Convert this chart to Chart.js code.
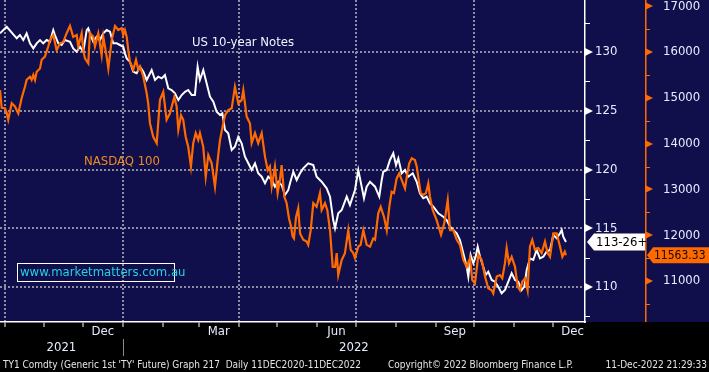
<!DOCTYPE html>
<html>
<head>
<title>US 10-year Notes vs NASDAQ 100</title>
<script src="https://cdn.jsdelivr.net/npm/chart.js@4.4.1/dist/chart.umd.min.js"></script>
<style>
body{margin:0;background:#000;}
</style>
</head>
<body>
<canvas id="myChart" width="709" height="372"></canvas>
<script>
// x values are days counted from 1 Jan 2022
var notesDays = [-95.5,-90.3,-82.5,-80.0,-77.4,-74.8,-72.2,-69.6,-67.0,-64.4,
 -61.9,-59.2,-56.7,-54.1,-52.8,-50.2,-47.6,-45.0,-41.1,-38.6,
 -35.9,-33.3,-30.8,-28.1,-26.9,-25.6,-23.0,-20.4,-17.8,-15.2,
 -12.6,-10.0,-7.5,-4.8,-2.3,0.3,1.6,3.0,5.5,8.1,
 10.7,13.3,15.9,18.5,22.4,25.0,27.5,30.2,32.7,35.3,
 37.9,40.5,43.1,45.7,48.3,50.8,53.5,56.0,58.1,59.9,
 62.5,65.1,67.7,70.3,72.9,75.5,77.3,79.4,81.9,84.6,
 87.1,89.7,92.3,94.9,97.5,100.1,102.7,105.2,107.9,110.5,
 113.0,115.7,118.2,120.8,123.4,126.0,128.6,129.9,132.5,135.1,
 137.7,140.2,144.1,148.0,150.6,154.5,158.4,161.0,163.5,164.9,
 167.4,170.1,174.0,176.5,180.4,183.0,185.6,187.4,189.5,192.1,
 196.0,199.3,201.2,202.4,205.1,207.6,210.2,212.3,214.1,216.7,
 219.3,221.8,225.3,228.4,230.9,233.5,236.1,238.7,241.3,245.2,
 249.0,251.7,254.3,256.8,259.5,262.0,264.6,267.2,268.5,270.3,
 272.4,274.2,275.8,277.6,280.1,282.0,284.0,286.7,289.2,291.8,
 294.4,297.0,299.6,302.2,304.8,307.3,310.0,312.0,313.9,316.4,
 319.0,321.6,324.2,326.8,329.4,332.0,334.6,337.2,339.8,341.1,
 342.3,344.4];
var notesValues = [131.59,132.15,131.17,131.45,131.02,131.59,130.74,130.31,130.74,131.02,
 130.74,131.02,130.88,131.87,131.45,130.74,130.60,131.02,130.88,130.31,
 130.03,130.45,130.03,131.87,132.02,131.59,130.88,131.30,131.02,131.59,
 131.87,131.73,130.74,130.74,130.60,130.45,129.89,129.46,129.17,128.32,
 128.19,128.75,128.32,127.62,128.47,127.62,127.90,127.76,128.04,126.91,
 126.77,126.49,125.91,126.34,126.62,126.77,126.34,126.34,128.75,127.62,
 128.47,127.34,126.20,125.77,124.92,124.64,124.78,123.36,123.08,121.66,
 121.94,122.79,122.23,121.09,120.53,119.96,120.53,119.68,119.39,118.83,
 119.39,119.11,118.54,118.96,118.68,117.83,118.26,118.83,119.81,119.11,
 119.68,120.10,120.53,120.38,119.39,118.96,118.40,117.69,115.70,115.00,
 116.27,116.55,117.69,116.98,118.26,119.96,118.54,117.55,118.54,118.96,
 118.54,117.69,119.11,119.81,119.96,120.81,121.38,120.38,120.95,119.68,
 119.96,119.39,119.68,118.96,117.98,117.55,117.69,117.12,116.84,116.27,
 115.98,115.70,115.13,114.85,114.57,114.00,112.87,111.73,110.88,112.72,
 112.02,112.58,113.43,112.58,111.73,111.02,111.30,110.60,110.45,110.03,
 109.46,109.74,110.45,111.17,110.60,110.45,109.74,110.03,111.45,112.44,
 112.30,113.15,112.44,112.58,113.01,113.15,114.43,114.15,114.57,114.85,
 114.28,113.83];

var ndxDays = [-95.5,-94.2,-91.6,-90.3,-89.1,-86.4,-83.9,-81.3,-78.7,-76.1,
 -74.8,-72.2,-70.9,-69.6,-68.3,-67.0,-64.4,-63.1,-60.6,-58.0,
 -56.7,-54.1,-51.5,-48.9,-46.3,-43.7,-41.1,-38.6,-35.9,-34.7,
 -32.0,-30.8,-29.5,-26.9,-25.6,-23.0,-21.7,-19.1,-16.5,-15.2,
 -12.6,-11.3,-8.7,-6.1,-3.6,-0.9,0.3,1.6,3.0,4.2,
 5.5,8.1,10.2,12.0,13.3,15.9,18.5,19.7,21.1,23.6,
 26.3,28.8,31.4,34.0,36.6,40.0,41.8,43.1,45.2,46.9,
 48.8,50.8,52.9,54.7,56.6,58.6,59.9,62.5,64.4,66.4,
 69.0,71.6,73.7,75.5,78.0,79.4,81.9,84.6,87.1,89.7,
 92.3,93.6,96.2,98.8,100.1,102.7,105.2,107.9,110.5,112.6,
 114.3,115.7,118.2,120.3,122.1,123.4,125.5,127.3,129.1,130.7,
 132.0,133.0,134.6,136.3,137.7,140.2,142.9,144.1,146.0,148.0,
 150.6,153.2,154.5,157.1,158.9,161.0,163.1,164.9,166.2,167.4,
 170.1,172.6,175.2,177.1,179.1,180.4,183.0,184.8,186.9,189.5,
 192.1,194.6,196.0,198.5,200.4,203.0,205.1,207.1,208.9,210.7,
 212.8,214.8,216.7,219.3,221.1,222.6,224.5,227.0,228.4,231.5,
 233.5,235.6,237.4,238.7,240.8,243.9,247.3,249.8,252.5,254.3,
 256.8,259.5,262.0,264.6,267.2,269.8,271.6,273.7,276.3,278.9,
 281.5,284.0,286.7,287.9,290.6,293.1,294.9,297.0,298.3,300.1,
 302.2,304.8,306.9,308.7,310.5,312.6,314.6,316.4,318.2,320.3,
 322.9,325.5,328.1,330.2,332.0,334.6,337.2,339.8,341.6,343.5,
 344.4];
var ndxValues = [15170,14780,14770,14670,14520,14880,14810,14660,14990,15240,
 15390,15460,15390,15500,15390,15570,15640,15830,15900,16120,
 16260,16370,16040,16190,16220,16410,16570,16330,16370,16120,
 16410,16040,15860,15750,16410,16330,16120,16410,15930,16330,
 15900,15640,16260,16570,16480,16520,16370,16480,16330,16040,
 15790,15610,15830,15610,15680,15460,15100,14880,14440,14150,
 14010,14950,15130,14520,14660,15020,14810,14300,14620,14520,
 14150,13930,13500,14010,14230,14080,14230,13930,13280,13750,
 13570,13060,13640,14080,14440,14620,14730,14770,15240,14880,
 14950,15170,14590,14440,14010,14230,14010,14230,13710,13420,
 13500,13060,13500,12920,13210,13530,12840,12700,12370,12190,
 11970,11930,12400,12590,12040,11900,11860,11790,12110,12700,
 12620,12920,12550,12700,12550,12110,11310,11310,11610,11130,
 11460,11610,12110,11680,11610,11500,11750,11790,12110,11790,
 11750,11930,11900,12480,12620,12400,12110,12620,12950,12920,
 13240,13350,13210,13020,13350,13570,13680,13640,13500,12920,
 12880,12920,13130,12840,12550,12330,12010,12260,12770,12110,
 12110,11900,11790,11460,11310,11500,11020,10950,11570,11460,
 11100,10840,10800,10730,11100,11130,11060,11390,11720,11390,
 11530,11310,10880,10800,10990,11060,10800,11750,11900,11680,
 11720,11610,11860,11610,11530,12040,12040,11750,11530,11640,
 11563.33];

var monthStarts = [-92,-61,-31,0,31,59,90,120,151,181,212,243,273,304,334];
var quarterStarts = [-92,0,90,181,273];
var monthNames = ['Dec','Mar','Jun','Sep','Dec'];
var monthFrom = [-31,59,151,243,334];
var monthTo = [0,90,181,273,365];
var years = ['2021','2022'];
var notesTicks = [107.5,110,112.5,115,117.5,120,122.5,125,127.5,130,132.5];
var ndxTicks = [10500,11000,11500,12000,12500,13000,13500,14000,14500,15000,15500,16000,16500,17000];

var NAVY = '#100e4b';
var ORANGE = '#ff6a00';
var GRID = '#8e8ea2';
var LABEL = '#e6ecff';
var FONT = "'DejaVu Sans Condensed','DejaVu Sans',sans-serif";

function pts(xs, ys) {
  return xs.map(function (d, i) { return {x: d, y: ys[i]}; });
}

function flag(c, x, y, col) {
  c.fillStyle = col;
  c.beginPath();
  c.moveTo(x, y - 4);
  c.lineTo(x + 8, y);
  c.lineTo(x, y + 4);
  c.closePath();
  c.fill();
}

function minorTick(c, x, y, col) {
  c.strokeStyle = col;
  c.lineWidth = 1;
  c.beginPath();
  c.moveTo(x, y + 0.5);
  c.lineTo(x + 5, y + 0.5);
  c.stroke();
}

function thirtySeconds(v) {
  var whole = Math.floor(v);
  var f = (v - whole) * 32;
  var n = Math.floor(f);
  return whole + '-' + (n < 10 ? '0' : '') + n + (f - n >= 0.5 ? '+' : '');
}

var decoPlugin = {
  id: 'deco',
  beforeDraw: function (chart) {
    var c = chart.ctx, a = chart.chartArea;
    c.save();
    c.fillStyle = '#000000';
    c.fillRect(0, 0, chart.width, chart.height);
    c.fillStyle = NAVY;
    c.fillRect(0, 0, chart.width, a.bottom);
    c.restore();
  },
  afterDraw: function (chart) {
    var c = chart.ctx, a = chart.chartArea;
    var xs = chart.scales.x, ys = chart.scales.y, ys2 = chart.scales.y2;
    var bottom = Math.round(a.bottom);
    c.save();

    // orange axis line, stops at the plot bottom
    c.fillStyle = ORANGE;
    c.fillRect(Math.round(ys2.left), 0, 1.5, bottom);

    // flags and minor ticks on the value axes
    ys.ticks.forEach(function (t) {
      var py = Math.round(ys.getPixelForValue(t.value));
      if (t.value % 5 === 0) flag(c, ys.left, py, '#ffffff');
      else minorTick(c, ys.left, py, '#ffffff');
    });
    ys2.ticks.forEach(function (t) {
      var py = Math.round(ys2.getPixelForValue(t.value));
      if (t.value % 1000 === 0) flag(c, ys2.left, py, ORANGE);
      else minorTick(c, ys2.left, py, ORANGE);
    });

    // series captions
    c.font = '13px ' + FONT;
    c.textBaseline = 'middle';
    c.textAlign = 'left';
    c.fillStyle = '#f2f5ff';
    c.fillText('US 10-year Notes', xs.getPixelForValue(53.7), ys.getPixelForValue(130.77));
    c.fillStyle = '#f08a24';
    c.fillText('NASDAQ 100', xs.getPixelForValue(-30.2), ys2.getPixelForValue(13605));

    // watermark
    c.strokeStyle = '#ffffff';
    c.lineWidth = 1;
    c.strokeRect(17.5, 263.5, 157, 18);
    c.fillStyle = '#22d3e6';
    c.fillText('www.marketmatters.com.au', 20, 273);

    // last value tags
    var lastN = notesValues[notesValues.length - 1];
    var py = ys.getPixelForValue(lastN);
    c.fillStyle = '#ffffff';
    c.beginPath();
    c.moveTo(ys.left + 2, py);
    c.lineTo(ys.left + 9, py - 8.5);
    c.lineTo(ys2.left, py - 8.5);
    c.lineTo(ys2.left, py + 8.5);
    c.lineTo(ys.left + 9, py + 8.5);
    c.closePath();
    c.fill();
    c.fillStyle = '#000000';
    c.textAlign = 'left';
    c.font = '13px ' + FONT;
    c.fillText(thirtySeconds(lastN), ys.left + 11, py + 0.5);

    var lastX = ndxValues[ndxValues.length - 1];
    var py2 = ys2.getPixelForValue(lastX);
    c.fillStyle = ORANGE;
    c.beginPath();
    c.moveTo(ys2.left + 2, py2);
    c.lineTo(ys2.left + 8, py2 - 8);
    c.lineTo(chart.width, py2 - 8);
    c.lineTo(chart.width, py2 + 8);
    c.lineTo(ys2.left + 8, py2 + 8);
    c.closePath();
    c.fill();
    c.fillStyle = '#140800';
    c.font = '12px ' + FONT;
    c.fillText(lastX.toFixed(2), ys2.left + 9, py2 + 0.5);

    // the strip under the value axes stays black
    c.fillStyle = '#000000';
    c.fillRect(Math.round(a.right) + 1, bottom + 1, chart.width, chart.height);

    // month and year labels
    c.fillStyle = LABEL;
    c.textAlign = 'center';
    c.font = '13px ' + FONT;
    monthNames.forEach(function (m, i) {
      var cx = (xs.getPixelForValue(monthFrom[i]) + xs.getPixelForValue(monthTo[i])) / 2;
      c.fillText(m, cx, 332);
    });
    var split = xs.getPixelForValue(0);
    c.fillText(years[0], (xs.left + split) / 2, 348);
    c.fillText(years[1], (split + xs.right) / 2, 348);
    c.strokeStyle = '#8a8a8a';
    c.lineWidth = 1;
    c.beginPath();
    c.moveTo(Math.round(split) + 0.5, 339);
    c.lineTo(Math.round(split) + 0.5, 356);
    c.stroke();

    // footer
    c.font = '10px ' + FONT;
    c.fillStyle = '#e4e4e4';
    c.textAlign = 'left';
    c.fillText("TY1 Comdty (Generic 1st 'TY' Future) Graph 217  Daily 11DEC2020-11DEC2022", 3, 365);
    c.fillText('Copyright\u00a9 2022 Bloomberg Finance L.P.', 388, 365);
    c.textAlign = 'right';
    c.fillText('11-Dec-2022 21:29:33', 707, 365);

    c.restore();
  }
};

function noPad(scale) {
  scale.paddingTop = 0;
  scale.paddingBottom = 0;
  scale.paddingLeft = 0;
  scale.paddingRight = 0;
}

var ctx = document.getElementById('myChart').getContext('2d');
var chart = new Chart(ctx, {
  type: 'line',
  data: {
    datasets: [
      { label: 'NASDAQ 100', data: pts(ndxDays, ndxValues), yAxisID: 'y2',
        borderColor: ORANGE, borderWidth: 2.2, pointRadius: 0, tension: 0 },
      { label: 'US 10-year Notes', data: pts(notesDays, notesValues), yAxisID: 'y',
        borderColor: '#ffffff', borderWidth: 2, pointRadius: 0, tension: 0 }
    ]
  },
  options: {
    responsive: false,
    animation: false,
    devicePixelRatio: 1,
    layout: { padding: 0 },
    plugins: { legend: { display: false }, tooltip: { enabled: false } },
    scales: {
      x: {
        type: 'linear', position: 'bottom', min: -95.5, max: 359.2,
        afterBuildTicks: function (s) { s.ticks = monthStarts.map(function (v) { return {value: v}; }); },
        afterFit: function (s) { s.height = 50; noPad(s); },
        ticks: { display: false },
        grid: {
          color: function (c) { return c.tick && quarterStarts.indexOf(c.tick.value) >= 0 ? GRID : 'rgba(0,0,0,0)'; },
          lineWidth: 2, drawTicks: true, tickLength: 5, tickColor: '#ffffff', tickWidth: 1
        },
        border: { display: true, color: '#ffffff', width: 1.5, dash: [2, 2] }
      },
      y: {
        type: 'linear', position: 'right', weight: 0, min: 107.02, max: 134.43,
        afterBuildTicks: function (s) { s.ticks = notesTicks.map(function (v) { return {value: v}; }); },
        afterFit: function (s) { s.width = 60; noPad(s); },
        ticks: {
          autoSkip: false, padding: 10, color: LABEL, font: { family: FONT, size: 13 },
          callback: function (v) { return v % 5 === 0 ? String(v) : ''; }
        },
        grid: {
          color: function (c) { return c.tick && c.tick.value % 5 === 0 ? GRID : 'rgba(0,0,0,0)'; },
          lineWidth: 2, drawTicks: false
        },
        border: { display: true, color: '#ffffff', width: 1.5, dash: [2, 2] }
      },
      y2: {
        type: 'linear', position: 'right', weight: 1, min: 10106, max: 17135,
        afterBuildTicks: function (s) { s.ticks = ndxTicks.map(function (v) { return {value: v}; }); },
        afterFit: function (s) { s.width = 64; noPad(s); },
        ticks: {
          autoSkip: false, padding: 10, color: LABEL, font: { family: FONT, size: 13 },
          callback: function (v) { return v % 1000 === 0 ? String(v) : ''; }
        },
        grid: { display: false },
        border: { display: false }
      }
    }
  },
  plugins: [decoPlugin]
});
</script>
</body>
</html>
